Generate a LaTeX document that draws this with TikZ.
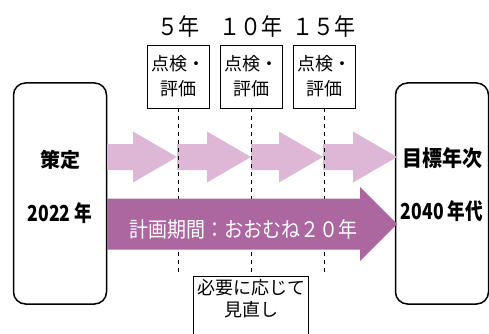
\documentclass[tikz,border=0pt]{standalone}
\usepackage{fontspec}
\setmainfont{Noto Sans CJK JP}
\definecolor{lightpink}{RGB}{222,182,214}
\definecolor{darkpink}{RGB}{172,102,160}
\tikzset{
  endbox/.style={draw,line width=1.5pt,rounded corners=12pt,minimum width=93pt,minimum height=221pt},
  endtext/.style={font=\fontsize{20}{24}\selectfont\bfseries},
  chkbox/.style={draw,line width=0.8pt,minimum width=62pt,minimum height=63pt,inner sep=0pt,align=center,font=\fontsize{18}{25}\selectfont},
  guide/.style={line width=0.9pt,dash pattern=on 4pt off 4pt}
}
\begin{document}
\begin{tikzpicture}[x=1pt,y=-1pt]
	\useasboundingbox (0,0) rectangle (489,334);
	\def\yl{157} % light arrows
	\def\yd{224} % main arrow
	% end boxes
	\node[endbox] (plan) at (60,193.5) {};
	\node[endbox] (goal) at (442,193.5) {};
	\node[endtext] (plantx) at (60,160) {策定};
	\node[endtext] (planyr) at (60,213) {\scalebox{0.88}[1.1]{2022 年}};
	\node[endtext] (goaltx) at (442,158) {\scalebox{1}[1.1]{目標年次}};
	\node[endtext] (goalyr) at (442,211) {\scalebox{0.88}[1.1]{2040 年代}};
	% light arrows
	\foreach \s/\t in {107/177,177/251,251/323,323/397}
		\fill[lightpink] (\s,\yl-13) -- (\t-44,\yl-13) -- (\t-44,\yl-25.5) -- (\t,\yl)
			-- (\t-44,\yl+25.5) -- (\t-44,\yl+13) -- (\s,\yl+13) -- cycle;
	% check boxes
	\foreach \i/\x/\yr in {1/178/５年,2/251/１０年,3/324/１５年}{
		\node[chkbox] (chk\i) at (\x,76.5) {点検・\\評価};
		\node[font=\fontsize{21}{24}\selectfont] (yr\i) at (\x,27) {\scalebox{1}[1.12]{\yr}};
	}
	\node[draw,line width=0.8pt,minimum width=110pt,minimum height=64pt,anchor=north,align=center,
		font=\fontsize{18}{22}\selectfont,text depth=22pt] (rev) at (251,276) {必要に応じて\\見直し};
	\coordinate (end1) at (178,274);
	\coordinate (end3) at (324,274);
	\draw[guide] (chk1.south) -- (end1);
	\draw[guide] (chk2.south) -- (rev.north);
	\draw[guide] (chk3.south) -- (end3);
	% main arrow
	\fill[darkpink] (107,\yd-25.5) -- (360,\yd-25.5) -- (360,\yd-37) -- (397,\yd)
		-- (360,\yd+37) -- (360,\yd+25.5) -- (107,\yd+25.5) -- cycle;
	\node[text=white,font=\fontsize{19}{22}\selectfont] (period) at (243,229) {\scalebox{1}[1.12]{計画期間：おおむね２０年}};
\end{tikzpicture}
\end{document}
